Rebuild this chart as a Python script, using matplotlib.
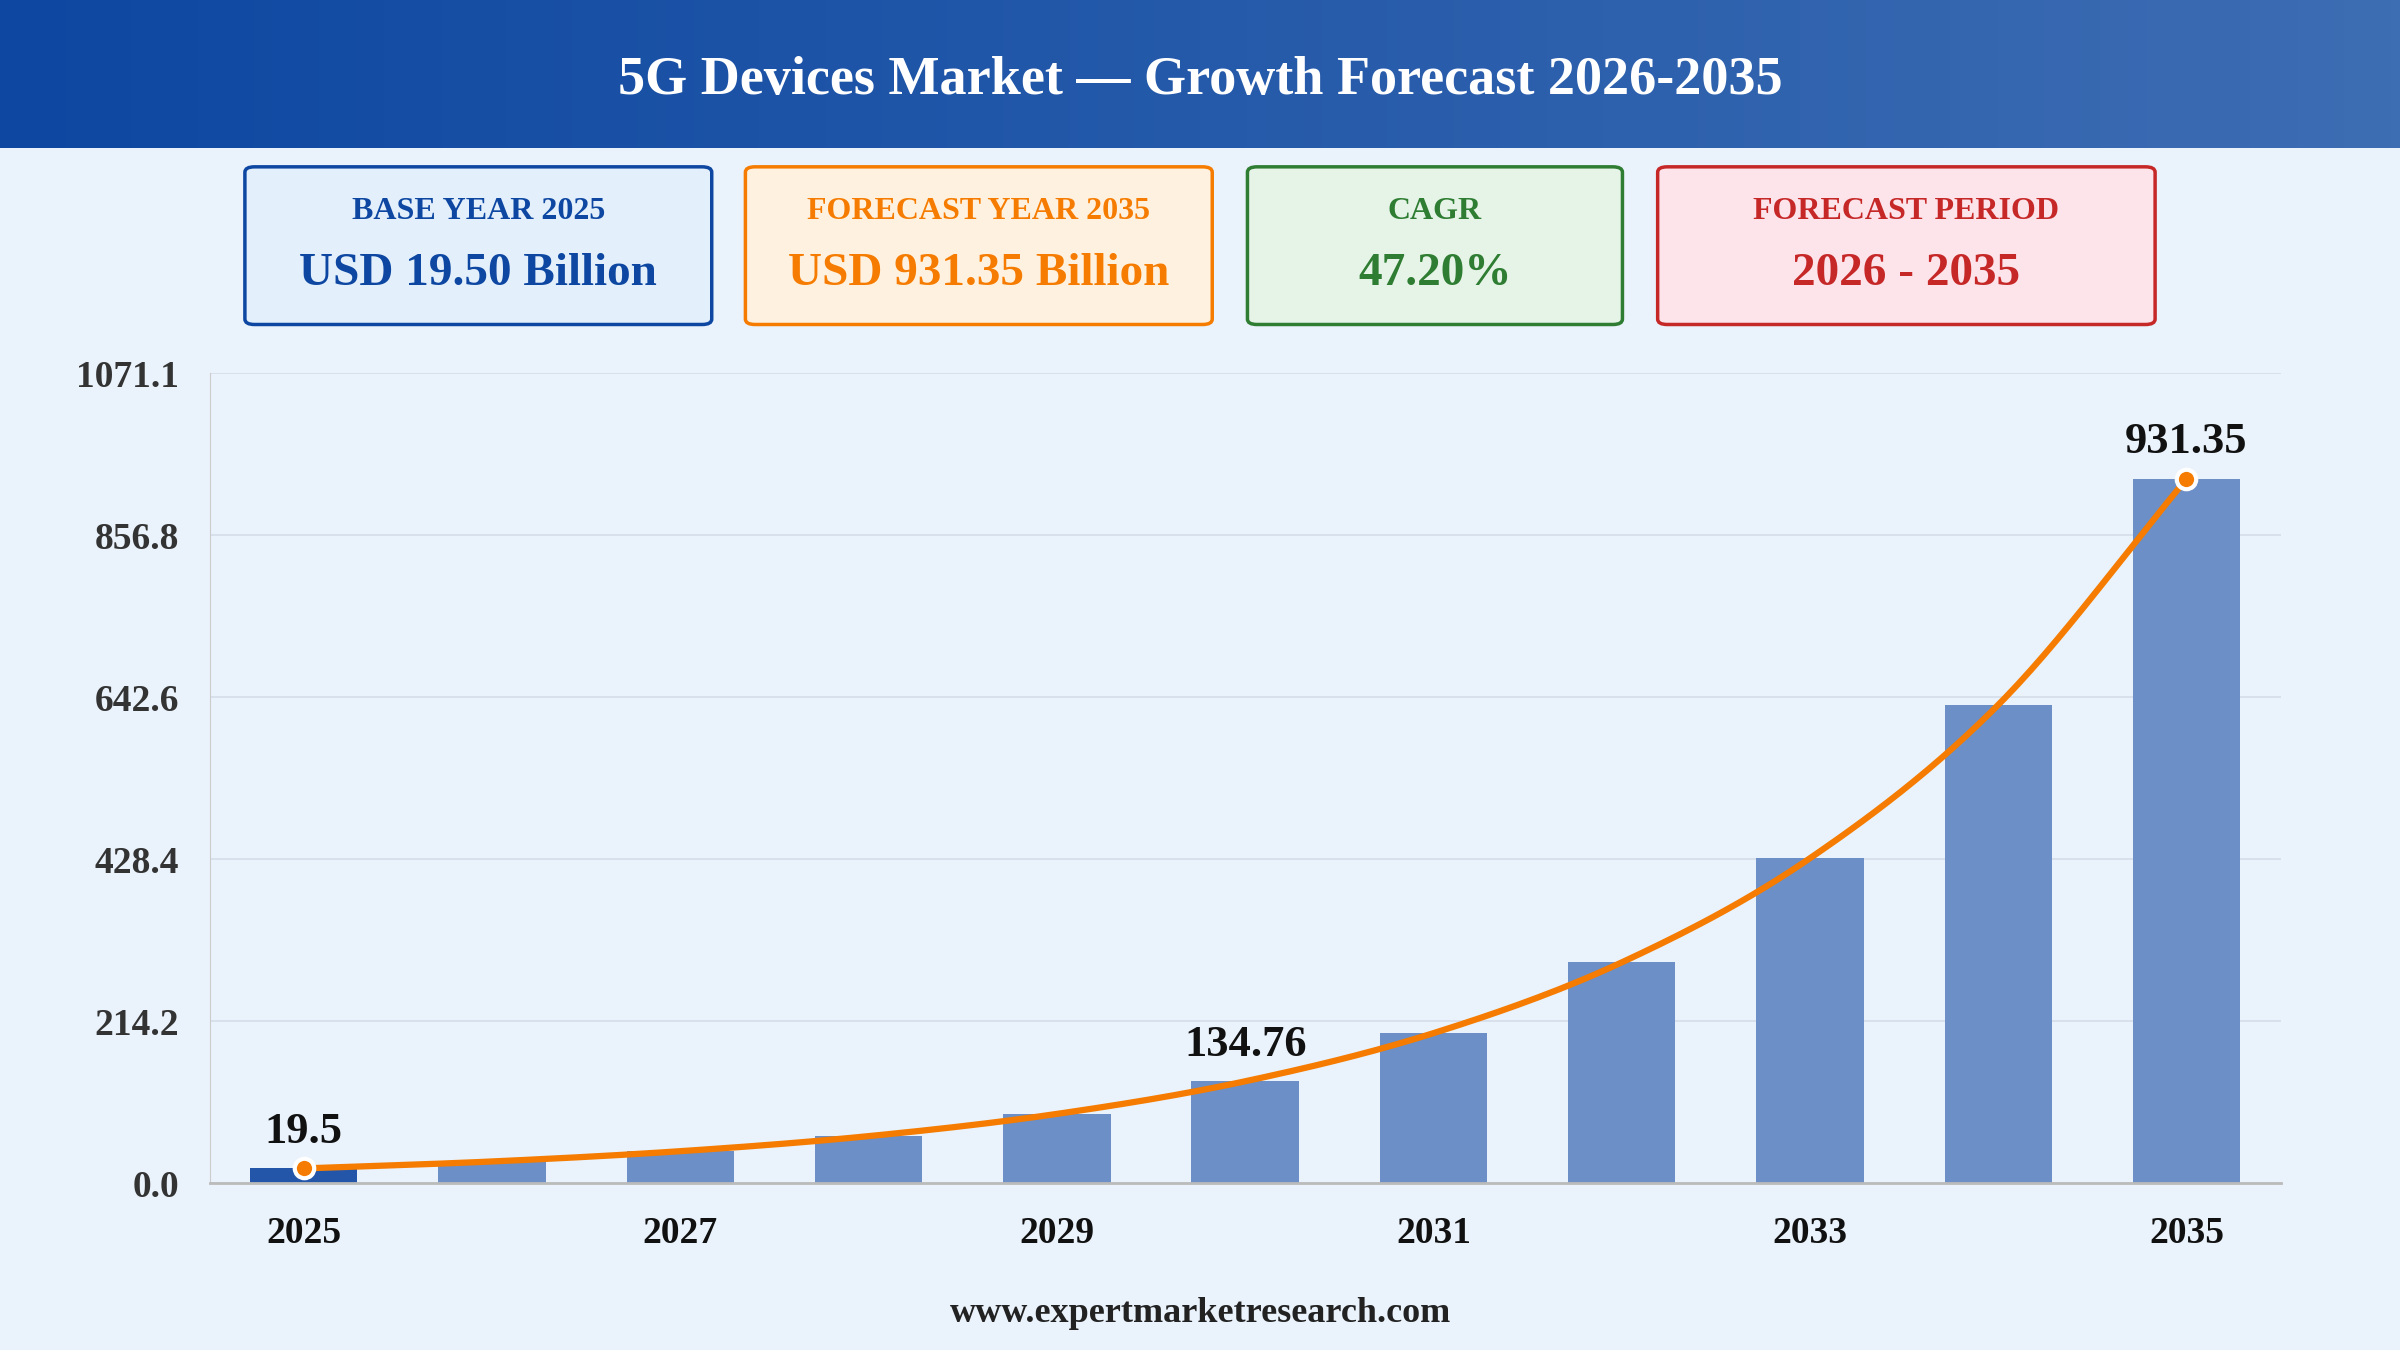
import numpy as np
import matplotlib
matplotlib.use("Agg")
import matplotlib.pyplot as plt
from matplotlib.patches import FancyBboxPatch
from matplotlib.colors import LinearSegmentedColormap

years = [2025, 2026, 2027, 2028, 2029, 2030, 2031, 2032, 2033, 2034, 2035]
values = [19.5, 28.7, 42.3, 62.2, 91.6, 134.76, 198.4, 292.0, 429.8, 632.7, 931.35]
yticks = [0.0, 214.2, 428.4, 642.6, 856.8, 1071.1]
xtick_years = [2025, 2027, 2029, 2031, 2033, 2035]
annot_years = [2025, 2030, 2035]
annot_text = ["19.5", "134.76", "931.35"]
cards = [("BASE YEAR 2025", "USD 19.50 Billion", "#0d47a1", "#e3f0fc"),
         ("FORECAST YEAR 2035", "USD 931.35 Billion", "#f57c00", "#fff1df"),
         ("CAGR", "47.20%", "#2e7d32", "#e6f4e8"),
         ("FORECAST PERIOD", "2026 - 2035", "#c62828", "#fce4ea")]

plt.rcParams['font.family'] = ['Liberation Serif', 'DejaVu Serif']
W, H = 1568, 882
fig = plt.figure(figsize=(24, 13.5), dpi=100)
fig.patch.set_facecolor("#eaf2fb")

hax = fig.add_axes([0, 1 - 97 / H, 1, 97 / H])
grad = np.linspace(0, 1, 256).reshape(1, -1)
cm = LinearSegmentedColormap.from_list("g", ["#0d47a1", "#3d6db3"])
hax.imshow(grad, aspect="auto", cmap=cm, extent=[0, 1, 0, 1])
hax.axis("off")
fig.text(0.5, 1 - 53 / H, "5G Devices Market \u2014 Growth Forecast 2026-2035", color="white",
         fontsize=39, fontweight="bold", ha="center", va="center")

xs = [(160, 465), (487, 792), (815, 1060), (1083, 1408)]
for (x0, x1), (lab, val, ec, fc) in zip(xs, cards):
    p = FancyBboxPatch((x0 / W, 1 - 212 / H), (x1 - x0) / W, 103 / H,
                       boxstyle="round,pad=0,rounding_size=0.004", transform=fig.transFigure,
                       facecolor=fc, edgecolor=ec, linewidth=2.5)
    fig.patches.append(p)
    cx = (x0 + x1) / 2 / W
    fig.text(cx, 1 - 138 / H, lab, color=ec, fontsize=23, fontweight="bold", ha="center", va="center")
    fig.text(cx, 1 - 179 / H, val, color=ec, fontsize=34, fontweight="bold", ha="center", va="center")

ax = fig.add_axes([137 / W, 1 - 773 / H, (1490 - 137) / W, (773 - 244) / H])
ax.set_facecolor("#eaf2fb")
colors = ["#2356a8"] + ["#6b8fc6"] * (len(years) - 1)
ax.bar(years, values, width=0.57, color=colors, zorder=2)

x = np.array(years, float); y = np.array(values, float)
px = np.concatenate([[2 * x[0] - x[1]], x, [2 * x[-1] - x[-2]]])
py = np.concatenate([[2 * y[0] - y[1]], y, [2 * y[-1] - y[-2]]])
sx, sy = [], []
for i in range(1, len(px) - 2):
    t = np.linspace(0, 1, 30)
    for arr, out in ((px, sx), (py, sy)):
        p0, p1, p2, p3 = arr[i - 1:i + 3]
        out.extend(0.5 * ((2 * p1) + (-p0 + p2) * t + (2 * p0 - 5 * p1 + 4 * p2 - p3) * t ** 2
                          + (-p0 + 3 * p1 - 3 * p2 + p3) * t ** 3))
ax.plot(sx, sy, color="#f57c00", lw=4.5, zorder=3, solid_capstyle="round")
ax.plot([years[0], years[-1]], [values[0], values[-1]], "o", color="#f57c00", ms=14,
        mec="white", mew=3, zorder=4)
for yr, t in zip(annot_years, annot_text):
    v = values[years.index(yr)]
    ax.annotate(t, (yr, v), xytext=(0, 12), textcoords="offset points", ha="center",
                va="bottom", fontsize=32, fontweight="bold", color="#111111")

ax.set_ylim(0, 1071.1)
ax.set_xlim(2024.5, 2035.5)
ax.set_yticks(yticks)
ax.set_yticklabels([f"{v:.1f}" for v in yticks], fontsize=27, fontweight="bold", color="#333333")
ax.set_xticks(xtick_years)
ax.set_xticklabels([str(v) for v in xtick_years], fontsize=27, fontweight="bold", color="#111111")
ax.grid(axis="y", color="#d5dde8", lw=1.2, zorder=0)
ax.tick_params(axis="x", length=0, pad=24)
ax.tick_params(axis="y", length=0, pad=22)
for s in ["top", "right"]:
    ax.spines[s].set_visible(False)
ax.spines["left"].set_color("#cccccc")
ax.spines["bottom"].set_color("#bbbbbb")
ax.spines["bottom"].set_linewidth(2)

fig.text(0.5, 1 - 858 / H, "www.expertmarketresearch.com", fontsize=26, fontweight="bold",
         ha="center", va="center", color="#222222")
fig.savefig("out.png", dpi=100, facecolor=fig.get_facecolor())
